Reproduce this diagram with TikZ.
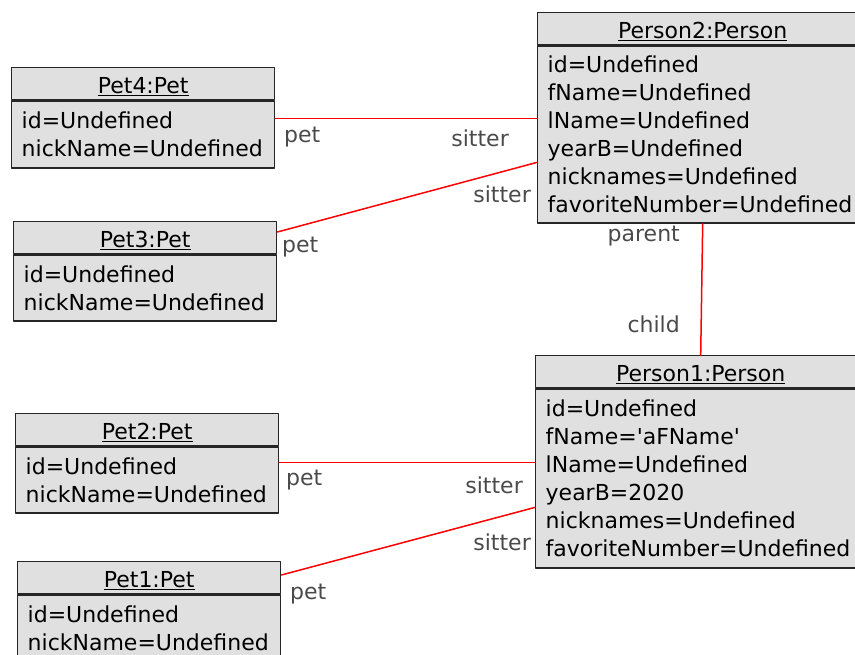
\documentclass[tikz,border=0pt]{standalone}
\usepackage{fontspec}
\setmainfont{DejaVu Sans}
\usetikzlibrary{positioning}
\definecolor{objfill}{HTML}{E0E0E0}
\definecolor{rolegray}{HTML}{4A4A4A}
\tikzset{
  every picture/.style={line join=round, line cap=round, x=1pt, y=-1pt},
  objtitle/.style={draw=black!85, fill=objfill, line width=1.4pt, inner sep=0pt, text height=20pt, text depth=0pt, minimum height=32pt, anchor=north west, font=\fontsize{22}{28}\selectfont},
  objattr/.style={draw=black!85, fill=objfill, line width=1.4pt, inner xsep=10pt, inner ysep=0pt, align=left, font=\fontsize{22}{28}\selectfont},
  link/.style={red, line width=1.5pt},
  role/.style={rolegray, inner sep=0pt, font=\fontsize{22}{28}\selectfont},
}

\begin{document}
\begin{tikzpicture}
\useasboundingbox (0,0) rectangle (855,655);
\node[objtitle, minimum width=263pt] (pet4) at (11,67) {\underline{Pet4:Pet}};
\node[objattr, text width=243pt, minimum height=67pt, below=0pt of pet4] (pet4attr) {id=Undefined\\nickName=Undefined};
\node[objtitle, minimum width=263pt] (pet3) at (13,221) {\underline{Pet3:Pet}};
\node[objattr, text width=243pt, minimum height=66pt, below=0pt of pet3] (pet3attr) {id=Undefined\\nickName=Undefined};
\node[objtitle, minimum width=263pt] (pet2) at (15,413) {\underline{Pet2:Pet}};
\node[objattr, text width=243pt, minimum height=66pt, below=0pt of pet2] (pet2attr) {id=Undefined\\nickName=Undefined};
\node[objtitle, minimum width=263pt] (pet1) at (17,561) {\underline{Pet1:Pet}};
\node[objattr, text width=243pt, minimum height=66pt, below=0pt of pet1] (pet1attr) {id=Undefined\\nickName=Undefined};
\node[objtitle, minimum width=330pt] (person2) at (537,12) {\underline{Person2:Person}};
\node[objattr, text width=310pt, minimum height=177pt, below=0pt of person2] (person2attr) {id=Undefined\\fName=Undefined\\lName=Undefined\\yearB=Undefined\\nicknames=Undefined\\favoriteNumber=Undefined};
\node[objtitle, minimum width=330pt] (person1) at (535,355) {\underline{Person1:Person}};
\node[objattr, text width=310pt, minimum height=179pt, below=0pt of person1] (person1attr) {id=Undefined\\fName=\textquotesingle aFName\textquotesingle\\lName=Undefined\\yearB=2020\\nicknames=Undefined\\favoriteNumber=Undefined};
\draw[link] ([yshift=-18pt]pet4attr.north east) -- ([yshift=-73pt]person2attr.north west);
\draw[link] ([yshift=-11pt]pet3.north east) -- ([yshift=-117pt]person2attr.north west);
\draw[link] (person2attr.south) -- (person1.north);
\draw[link] ([yshift=-16pt]pet2attr.north east) -- ([yshift=-74pt]person1attr.north west);
\draw[link] ([yshift=-14pt]pet1.north east) -- ([yshift=-119pt]person1attr.north west);
\node[role, anchor=base west] (pet4role) at (284,143) {pet};
\node[role, anchor=base east] (sitter4role) at (509,147) {sitter};
\node[role, anchor=base west] (pet3role) at (282,253) {pet};
\node[role, anchor=base east] (sitter3role) at (531,203) {sitter};
\node[role, anchor=base east] (parentrole) at (680,242) {parent};
\node[role, anchor=base east] (childrole) at (680,333) {child};
\node[role, anchor=base west] (pet2role) at (286,485) {pet};
\node[role, anchor=base east] (sitter2role) at (523,493) {sitter};
\node[role, anchor=base west] (pet1role) at (290,599) {pet};
\node[role, anchor=base east] (sitter1role) at (531,550) {sitter};
\end{tikzpicture}
\end{document}
